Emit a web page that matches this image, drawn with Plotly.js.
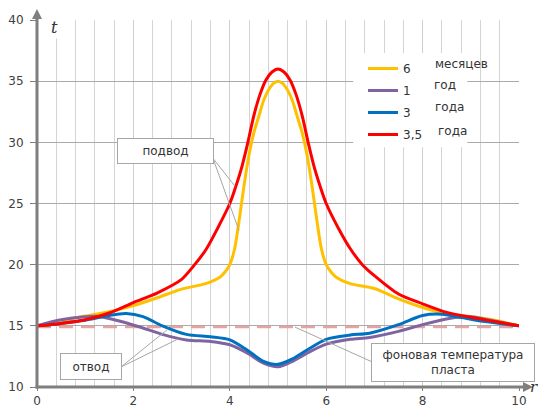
<!DOCTYPE html>
<html>
<head>
<meta charset="utf-8">
<script src="https://cdn.plot.ly/plotly-3.0.1.min.js"></script>
<style>html,body{margin:0;padding:0;background:#fff;}#chart{width:539px;height:407px;}</style>
</head>
<body>
<div id="chart"></div>
<script>
// Series names (legend numbers) and their words
const seriesNames = ['6', '1', '3', '3,5'];
const seriesWords = ['месяцев', 'год', 'года', 'года'];
const seriesColors = ['#FFC000', '#8064A2', '#0070C0', '#FF0000'];

// 6 months
const x6m = [0, 0.5, 1, 1.5, 2, 2.5, 3, 3.5, 3.8, 3.9, 4.0, 4.1, 4.2, 4.3, 4.4, 4.5, 4.6, 4.7, 4.8, 4.9, 5.0, 5.1, 5.2, 5.3, 5.4, 5.5, 5.6, 5.7, 5.8, 5.9, 6.0, 6.1, 6.2, 6.5, 7, 7.5, 8, 8.5, 9, 9.5, 10];
const y6m = [15, 15.4, 15.8, 16.15, 16.65, 17.3, 18.0, 18.45, 19.0, 19.4, 20.0, 21.3, 23.8, 26.6, 29.0, 30.8, 32.1, 33.4, 34.25, 34.8, 35.0, 34.8, 34.25, 33.4, 32.1, 30.8, 29.0, 26.6, 23.8, 21.3, 20.0, 19.4, 19.0, 18.45, 18.05, 17.2, 16.5, 16.0, 15.75, 15.45, 15];

// 1 year
const x1y = [0, 0.5, 1, 1.25, 1.6, 2.1, 2.6, 3.1, 3.6, 4.0, 4.35, 4.7, 5.0, 5.3, 5.55, 6.0, 6.5, 6.9, 7.5, 8.0, 8.55, 9.0, 9.35, 10];
const y1y = [15, 15.5, 15.75, 15.78, 15.5, 14.95, 14.3, 13.85, 13.72, 13.45, 12.8, 11.95, 11.65, 12.1, 12.65, 13.5, 13.9, 14.05, 14.55, 15.1, 15.6, 15.75, 15.5, 15];

// 3 years
const x3y = [0, 0.5, 1, 1.5, 1.85, 2.2, 2.6, 3.1, 3.6, 4.0, 4.35, 4.7, 5.0, 5.3, 5.55, 6.0, 6.5, 6.9, 7.5, 8.0, 8.4, 8.85, 9.3, 10];
const y3y = [15, 15.2, 15.45, 15.85, 16.0, 15.75, 15.0, 14.3, 14.1, 13.85, 13.05, 12.1, 11.85, 12.3, 12.9, 13.9, 14.25, 14.4, 15.1, 15.85, 15.95, 15.65, 15.35, 15];

// 3.5 years
const x35y = [0, 0.5, 1, 1.5, 2, 2.5, 3, 3.25, 3.5, 3.75, 4.0, 4.125, 4.25, 4.375, 4.5, 4.625, 4.75, 4.875, 5.0, 5.125, 5.25, 5.375, 5.5, 5.625, 5.75, 5.875, 6.0, 6.25, 6.5, 6.75, 7.0, 7.5, 8, 8.5, 9, 9.5, 10];
const y35y = [15, 15.2, 15.5, 16.05, 16.9, 17.7, 18.8, 19.9, 21.2, 23.0, 25.0, 26.4, 28.0, 30.0, 32.2, 33.9, 35.1, 35.75, 36.0, 35.75, 35.1, 33.9, 32.2, 30.0, 28.0, 26.4, 25.0, 23.0, 21.3, 20.0, 19.1, 17.6, 16.8, 16.1, 15.7, 15.35, 15];

// background formation temperature
const bgX = [0, 10];
const bgY = [14.9, 14.9];

const xTicks = [0, 2, 4, 6, 8, 10];
const yTicks = [10, 15, 20, 25, 30, 35, 40];

const FONT = 'DejaVu Sans';
const TXT = '#404040';
const AX = '#7f7f7f';

const xs = [x6m, x1y, x3y, x35y];
const ys = [y6m, y1y, y3y, y35y];

const traces = [{
  x: bgX, y: bgY, mode: 'lines', showlegend: false, hoverinfo: 'skip',
  line: {color: '#E6A3A3', width: 2.5, dash: '14px,8px'}
}];
for (let i = 0; i < 4; i++) {
  traces.push({
    x: xs[i], y: ys[i], name: seriesNames[i], mode: 'lines', legendgroup: 'g' + i,
    line: {color: seriesColors[i], width: 3, shape: 'spline', smoothing: 0.8}
  });
}

const annotations = [
  {x: 0.37, y: 39.4, xref: 'x', yref: 'y', text: '<i>t</i>', showarrow: false,
   font: {family: 'DejaVu Serif', size: 16, color: '#333'}},
  {x: 1.0187, y: -0.03, xref: 'paper', yref: 'paper', xanchor: 'left', text: '<i>r</i>', showarrow: false,
   font: {family: 'DejaVu Serif', size: 15, color: '#333'}},
  {x: 2.66, y: 29.33, xref: 'x', yref: 'y', text: 'подвод', showarrow: false,
   width: 93, height: 22, borderpad: 1, bgcolor: '#fff', bordercolor: '#a6a6a6', borderwidth: 1,
   font: {family: FONT, size: 12, color: '#333'}},
  {x: 1.11, y: 11.71, xref: 'x', yref: 'y', text: 'отвод', showarrow: false,
   width: 58, height: 23, borderpad: 1, bgcolor: '#fff', bordercolor: '#a6a6a6', borderwidth: 1,
   font: {family: FONT, size: 12, color: '#333'}},
  {x: 8.64, y: 12.04, xref: 'x', yref: 'y', text: 'фоновая температура<br>пласта', showarrow: false,
   width: 160, height: 35, borderpad: 1, bgcolor: '#fff', bordercolor: '#a6a6a6', borderwidth: 1,
   font: {family: FONT, size: 12, color: '#333'}}
];
const wordPos = [[433, 64], [432, 85], [433, 107], [436, 131]];
for (let i = 0; i < 4; i++) {
  annotations.push({
    x: (wordPos[i][0] - 37) / 482, y: (387 - wordPos[i][1]) / 367, xref: 'paper', yref: 'paper',
    xanchor: 'left', yanchor: 'middle', text: seriesWords[i], showarrow: false,
    font: {family: FONT, size: 12, color: '#333'}
  });
}

const shapes = [
  // white area behind legend
  {type: 'rect', xref: 'x', yref: 'y', x0: 6.56, x1: 8.93, y0: 29.6, y1: 37.3, fillcolor: '#fff', line: {width: 0}, layer: 'above'},
  // white area behind t
  {type: 'rect', xref: 'x', yref: 'y', x0: 0.04, x1: 0.54, y0: 38.5, y1: 40.5, fillcolor: '#fff', line: {width: 0}, layer: 'above'},
  // leader lines
  {type: 'line', xref: 'x', yref: 'y', x0: 3.65, y0: 28.7, x1: 4.11, y1: 26.4, line: {color: '#a6a6a6', width: 1}, layer: 'above'},
  {type: 'line', xref: 'x', yref: 'y', x0: 3.65, y0: 28.7, x1: 4.19, y1: 22.8, line: {color: '#a6a6a6', width: 1}, layer: 'above'},
  {type: 'line', xref: 'x', yref: 'y', x0: 1.74, y0: 11.63, x1: 2.72, y1: 14.74, line: {color: '#a6a6a6', width: 1}, layer: 'above'},
  {type: 'line', xref: 'x', yref: 'y', x0: 1.74, y0: 11.63, x1: 2.93, y1: 13.93, line: {color: '#a6a6a6', width: 1}, layer: 'above'},
  {type: 'line', xref: 'x', yref: 'y', x0: 7.01, y0: 11.95, x1: 5.35, y1: 14.9, line: {color: '#a6a6a6', width: 1}, layer: 'above'},
  // axes with arrows
  {type: 'line', xref: 'paper', yref: 'paper', x0: 0, y0: -0.004, x1: 0, y1: 1.004, line: {color: AX, width: 3}, layer: 'above'},
  {type: 'path', xref: 'paper', yref: 'paper', path: 'M -0.0104,1.0027 L 0.0104,1.0027 L 0,1.03 Z', fillcolor: AX, line: {width: 0}, layer: 'above'},
  {type: 'line', xref: 'paper', yref: 'paper', x0: -0.003, y0: 0, x1: 1.009, y1: 0, line: {color: AX, width: 3}, layer: 'above'},
  {type: 'path', xref: 'paper', yref: 'paper', path: 'M 1.0083,-0.0136 L 1.0083,0.0136 L 1.029,0 Z', fillcolor: AX, line: {width: 0}, layer: 'above'}
];

const layout = {
  width: 539, height: 407,
  margin: {l: 37, r: 20, t: 20, b: 20},
  paper_bgcolor: '#fff', plot_bgcolor: '#fff',
  font: {family: FONT, size: 12, color: TXT},
  showlegend: true,
  legend: {x: (363 - 37) / 482, y: (387 - 54) / 367, xanchor: 'left', yanchor: 'top',
           bgcolor: 'rgba(0,0,0,0)', font: {family: FONT, size: 12, color: '#333'}, tracegroupgap: 3},
  xaxis: {range: [0, 10], tickvals: xTicks, ticktext: xTicks.map(String), showgrid: true, gridcolor: '#cfcfcf', gridwidth: 1,
          minor: {dtick: 0.4, tick0: 0, showgrid: true, gridcolor: '#d4d4d4', gridwidth: 1},
          zeroline: false, showline: false, ticks: 'outside', ticklen: 3, tickcolor: AX,
          tickfont: {family: FONT, size: 12, color: TXT}, ticklabelstandoff: 0, fixedrange: true},
  yaxis: {range: [10, 40], tickvals: yTicks, ticktext: yTicks.map(String), showgrid: true, gridcolor: '#aaaaaa', gridwidth: 1,
          zeroline: false, showline: false, ticks: 'outside', ticklen: 6, tickcolor: AX,
          tickfont: {family: FONT, size: 12, color: TXT}, ticklabelstandoff: 4, fixedrange: true},
  annotations: annotations,
  shapes: shapes
};

Plotly.newPlot('chart', traces, layout, {displayModeBar: false, staticPlot: true});
</script>
</body>
</html>
